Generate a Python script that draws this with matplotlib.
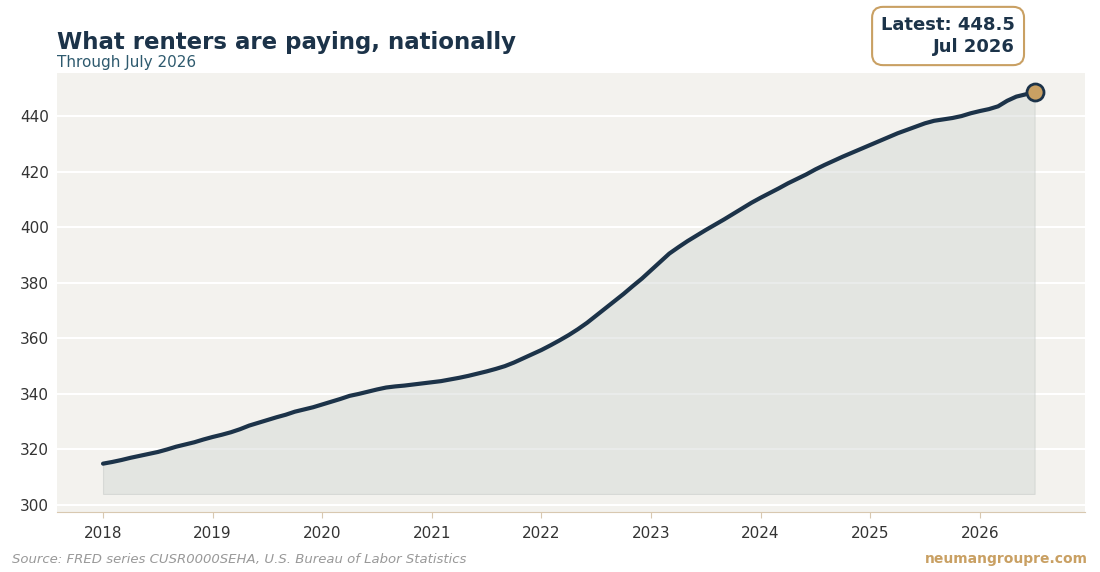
import matplotlib
matplotlib.use("Agg")
import matplotlib.pyplot as plt
import numpy as np
import pandas as pd

start = "2018-01-01"
values = [314.9,315.5,316.2,317.0,317.7,318.4,319.1,320.0,321.0,321.8,322.6,323.6,
 324.5,325.3,326.2,327.3,328.6,329.6,330.6,331.6,332.5,333.6,334.4,335.2,
 336.2,337.2,338.2,339.3,340.0,340.8,341.6,342.3,342.7,343.0,343.4,343.8,
 344.2,344.6,345.2,345.8,346.5,347.3,348.1,349.0,350.0,351.3,352.8,354.3,
 355.8,357.5,359.3,361.2,363.3,365.6,368.2,370.8,373.4,376.0,378.8,381.5,
 384.5,387.5,390.5,392.8,395.0,397.0,399.0,400.9,402.8,404.8,406.8,408.8,
 410.6,412.3,414.0,415.8,417.4,419.0,420.8,422.4,423.9,425.4,426.8,428.2,
 429.6,431.0,432.4,433.8,435.0,436.2,437.4,438.3,438.8,439.3,440.0,441.0,
 441.8,442.5,443.5,445.5,447.0,447.8,448.5]
dates = pd.date_range(start, periods=len(values), freq="MS")
x = 2018 + (dates.year - 2018) + (dates.month - 1) / 12.0
years = list(range(2018, 2027))
yticks = [300, 320, 340, 360, 380, 400, 420, 440]

navy = "#1c3349"
fig = plt.figure(figsize=(11, 5.72), dpi=100)
fig.patch.set_facecolor("white")
ax = fig.add_axes([57/1100, 1 - 512/572, 1028/1100, (512-73)/572])
ax.set_facecolor("#f3f2ee")
ax.fill_between(x, 304, values, color="#d5d9d6", alpha=0.5, edgecolor="#c4c8c5", linewidth=0.8)
ax.plot(x, values, color=navy, lw=3, solid_capstyle="round")
ax.scatter([x[-1]], [values[-1]], s=150, color="#c9a063", edgecolor=navy, linewidth=2, zorder=5)
ax.set_xlim(2017.58, 2026.96)
ax.set_ylim(297.5, 455.5)
ax.set_xticks(years)
ax.set_xticklabels([str(y) for y in years])
ax.set_yticks(yticks)
ax.grid(axis="y", color="white", lw=1.5)
ax.set_axisbelow(True)
for s in ["top", "right", "left"]:
    ax.spines[s].set_visible(False)
ax.spines["bottom"].set_color("#d8c8b0")
ax.tick_params(axis="both", colors="#333333", labelsize=11, length=0, pad=6)
ax.tick_params(axis="x", length=4, color="#d8c8b0")

fig.text(57/1100, 1 - 43/572, "What renters are paying, nationally", fontsize=16.5, fontweight="bold", color=navy, va="center")
fig.text(57/1100, 1 - 63/572, "Through July 2026", fontsize=11, color="#2e5a6e", va="center")
fig.text(1015/1100, 1 - 36/572, "Latest: 448.5\nJul 2026", fontsize=13, fontweight="bold", color=navy,
         ha="right", va="center", linespacing=1.3,
         bbox=dict(boxstyle="round,pad=0.5,rounding_size=0.6", fc="white", ec="#c9a063", lw=1.5))
fig.text(12/1100, 1 - 559/572, "Source: FRED series CUSR0000SEHA, U.S. Bureau of Labor Statistics", fontsize=9.5,
         style="italic", color="#999999", va="center")
fig.text(1088/1100, 1 - 559/572, "neumangroupre.com", fontsize=10, fontweight="bold", color="#c9a063", ha="right", va="center")
fig.savefig("out.png", dpi=100)
